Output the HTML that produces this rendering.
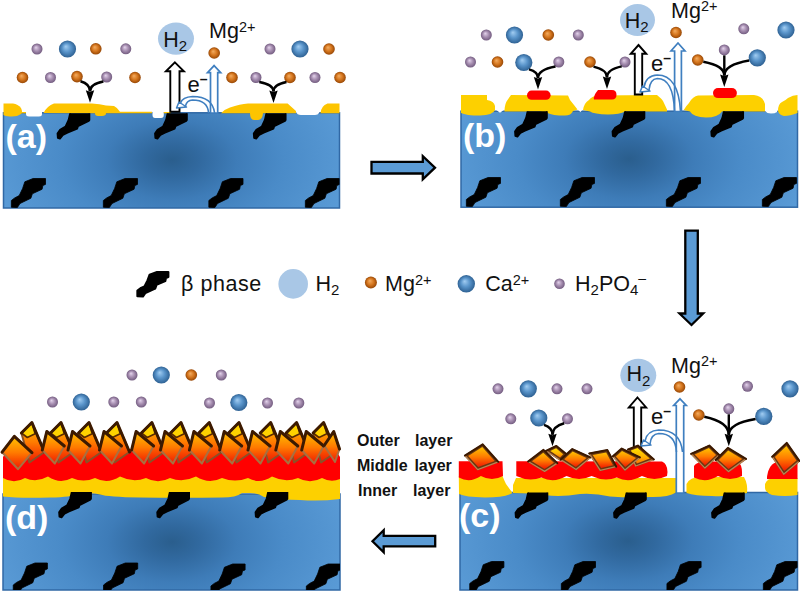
<!DOCTYPE html>
<html><head><meta charset="utf-8"><style>
html,body{margin:0;padding:0;background:#fff;width:800px;height:593px;overflow:hidden;}
svg{display:block;font-family:"Liberation Sans",sans-serif;}
</style></head><body>
<svg width="800" height="593" viewBox="0 0 800 593">

<defs>
<radialGradient id="subA" gradientUnits="userSpaceOnUse" cx="172" cy="160" r="185" gradientTransform="translate(172,160) scale(1,0.62) translate(-172,-160)"><stop offset="0" stop-color="#2a5e8d"/><stop offset="0.15" stop-color="#31699f"/><stop offset="0.35" stop-color="#3e7cb8"/><stop offset="0.6" stop-color="#4a8bc8"/><stop offset="1" stop-color="#5a9bd6"/></radialGradient><radialGradient id="subB" gradientUnits="userSpaceOnUse" cx="629" cy="159" r="185" gradientTransform="translate(629,159) scale(1,0.62) translate(-629,-159)"><stop offset="0" stop-color="#2a5e8d"/><stop offset="0.15" stop-color="#31699f"/><stop offset="0.35" stop-color="#3e7cb8"/><stop offset="0.6" stop-color="#4a8bc8"/><stop offset="1" stop-color="#5a9bd6"/></radialGradient><radialGradient id="subC" gradientUnits="userSpaceOnUse" cx="628" cy="541" r="185" gradientTransform="translate(628,541) scale(1,0.62) translate(-628,-541)"><stop offset="0" stop-color="#2a5e8d"/><stop offset="0.15" stop-color="#31699f"/><stop offset="0.35" stop-color="#3e7cb8"/><stop offset="0.6" stop-color="#4a8bc8"/><stop offset="1" stop-color="#5a9bd6"/></radialGradient><radialGradient id="subD" gradientUnits="userSpaceOnUse" cx="172" cy="542" r="185" gradientTransform="translate(172,542) scale(1,0.62) translate(-172,-542)"><stop offset="0" stop-color="#2a5e8d"/><stop offset="0.15" stop-color="#31699f"/><stop offset="0.35" stop-color="#3e7cb8"/><stop offset="0.6" stop-color="#4a8bc8"/><stop offset="1" stop-color="#5a9bd6"/></radialGradient>
 <radialGradient id="ionO" cx="0.5" cy="0.5" r="0.5" fx="0.4" fy="0.35">
  <stop offset="0" stop-color="#f3ad62"/>
  <stop offset="0.55" stop-color="#d5761e"/>
  <stop offset="1" stop-color="#974705"/>
 </radialGradient>
 <radialGradient id="ionP" cx="0.5" cy="0.5" r="0.5" fx="0.4" fy="0.35">
  <stop offset="0" stop-color="#e4d4ec"/>
  <stop offset="0.5" stop-color="#aa92b4"/>
  <stop offset="1" stop-color="#735c80"/>
 </radialGradient>
 <radialGradient id="ionB" cx="0.5" cy="0.5" r="0.5" fx="0.4" fy="0.35">
  <stop offset="0" stop-color="#a2cdf2"/>
  <stop offset="0.5" stop-color="#5a95cb"/>
  <stop offset="1" stop-color="#2e6193"/>
 </radialGradient>
 <linearGradient id="cry" x1="0" y1="0" x2="0" y2="1">
  <stop offset="0" stop-color="#ffc400"/>
  <stop offset="0.5" stop-color="#ff7a00"/>
  <stop offset="1" stop-color="#f01800"/>
 </linearGradient>
 <linearGradient id="cryY" x1="0" y1="0" x2="0" y2="1">
  <stop offset="0" stop-color="#ffe000"/>
  <stop offset="0.6" stop-color="#ffb000"/>
  <stop offset="1" stop-color="#ff7000"/>
 </linearGradient>
 <path id="beta" d="M0.35,29.25 L0.35,22.5 L3.7,19.9 L8.2,17.6 L11.6,10.5 L13.85,3.75 L22.1,0.5 L34.5,0.5 L34.5,6.4 L31.85,7.5 L31.1,11.25 L21.35,15.75 L19.85,20.25 L9,25.5 L6.35,29.6 Z"/>
 <filter id="blur1" x="-10%" y="-10%" width="120%" height="120%"><feGaussianBlur stdDeviation="0.6"/></filter>
 <clipPath id="clipA"><rect x="3.5" y="112.8" width="336" height="95.2"/></clipPath>
 <clipPath id="clipB"><rect x="461" y="111.2" width="336.5" height="96"/></clipPath>
 <clipPath id="clipC"><rect x="460" y="492.5" width="337.5" height="97.5"/></clipPath>
 <clipPath id="clipD"><rect x="3" y="494" width="337" height="96"/></clipPath>
</defs>

<rect width="800" height="593" fill="#fff"/>
<rect x="3.5" y="112.8" width="336" height="95.2" fill="url(#subA)" stroke="#3068a5" stroke-width="1.5"/><g clip-path="url(#clipA)"><use href="#beta" x="11" y="178" fill="#000" stroke="#000" stroke-width="0.8" stroke-linejoin="round"/><use href="#beta" x="103" y="178" fill="#000" stroke="#000" stroke-width="0.8" stroke-linejoin="round"/><use href="#beta" x="208.5" y="178" fill="#000" stroke="#000" stroke-width="0.8" stroke-linejoin="round"/><use href="#beta" x="305" y="178" fill="#000" stroke="#000" stroke-width="0.8" stroke-linejoin="round"/></g>
<path d="M26,111 L42,111 L42,114 Q42,116.5 39,116.5 L29,116.5 Q26,116.5 26,114 Z" fill="#fff"/>
<path d="M152.5,111 L163.8,111 L163.8,115 Q163.8,118 161,118 L155,118 Q152.5,118 152.5,115 Z" fill="#fff"/>
<path d="M296,111 L320,111 L319,113 Q318,115 315,115 L301,115 Q297,115 296,112 Z" fill="#fff"/>
<path d="M3.5,103.5 L13,103.5 Q18,104 21,108 Q23,112 21,114 Q17,117 10,116.5 Q5,116 3.5,115 Z" fill="#fdc400"/>
<rect x="21" y="112" width="5" height="1.3" fill="#fdc400"/>
<path d="M43.5,113 Q47,106 54,103.5 L92,103.5 Q100,104 106,105.5 L114,106 Q118,108 120,111.8 L152,111.8 L152,113.3 L106,113.3 Q106,116 102,116 L98,116 Q95,116 95,113.3 Z" fill="#fdc400"/>
<rect x="163.8" y="112" width="7" height="1.3" fill="#fdc400"/>
<path d="M221,113.3 Q225,109 230,107.5 Q240,104 248,103.5 L287.6,103.5 L296,111 L296,113.3 L263,113.3 Q262.5,120 258,120 L254,120 Q250,120 250,113.3 Z" fill="#fdc400"/>
<path d="M320.5,113.3 Q321,106 327.5,103.5 L339.5,103.5 L339.5,113.3 Z" fill="#fdc400"/>
<clipPath id="tbA"><rect x="0" y="113.2" width="800" height="60"/></clipPath><g clip-path="url(#tbA)"><path transform="translate(90.00,113.20)" d="M-19.5,-2 L-0.5,-2 L-0.5,6.75 L-1.25,7.85 L-12,13.2 L-12.75,15.5 L-22.5,19.5 L-27,21.75 L-30,25.5 L-32.25,24.75 L-32.6,20.25 L-30,16.5 L-24.5,13.2 L-21.5,6.75 Z" fill="#000" stroke="#000" stroke-width="1.6" stroke-linejoin="round"/><path transform="translate(187.50,113.20)" d="M-19.5,-2 L-0.5,-2 L-0.5,6.75 L-1.25,7.85 L-12,13.2 L-12.75,15.5 L-22.5,19.5 L-27,21.75 L-30,25.5 L-32.25,24.75 L-32.6,20.25 L-30,16.5 L-24.5,13.2 L-21.5,6.75 Z" fill="#000" stroke="#000" stroke-width="1.6" stroke-linejoin="round"/><path transform="translate(286.25,113.20)" d="M-19.5,-2 L-0.5,-2 L-0.5,6.75 L-1.25,7.85 L-12,13.2 L-12.75,15.5 L-22.5,19.5 L-27,21.75 L-30,25.5 L-32.25,24.75 L-32.6,20.25 L-30,16.5 L-24.5,13.2 L-21.5,6.75 Z" fill="#000" stroke="#000" stroke-width="1.6" stroke-linejoin="round"/></g>
<text x="5.5" y="147.6" font-family="Liberation Sans" font-weight="bold" font-size="34" fill="#fff">(a)</text>
<rect x="461" y="111.2" width="336.5" height="96" fill="url(#subB)" stroke="#3068a5" stroke-width="1.5"/><g clip-path="url(#clipB)"><use href="#beta" x="466" y="177" fill="#000" stroke="#000" stroke-width="0.8" stroke-linejoin="round"/><use href="#beta" x="560" y="177" fill="#000" stroke="#000" stroke-width="0.8" stroke-linejoin="round"/><use href="#beta" x="666" y="177" fill="#000" stroke="#000" stroke-width="0.8" stroke-linejoin="round"/><use href="#beta" x="762" y="177" fill="#000" stroke="#000" stroke-width="0.8" stroke-linejoin="round"/></g>
<path d="M495,109 L505,109 L501,112 Q500,113 499,112 Z" fill="#fff"/>
<path d="M577,109 L583,109 L580.5,112 Z" fill="#fff"/>
<path d="M765,109 L778,109 L777,112 Q775,113.5 771,113.5 Q767,113.5 765,111 Z" fill="#fff"/>
<path d="M461,95 L487,95 L487,100 Q494,101 495,106 L495,110 Q493,115 480,115.6 Q466,115.5 461,113 Z" fill="#fdd000"/>
<path d="M504.5,110 Q505,103 507.5,100 L511,95 L568,95.5 L570,100 L574,105 L577.5,109.4 L573,111 Q571,115.6 565,115.6 Q552,115.5 547.5,113 L540,111.5 L504.5,111.5 Z" fill="#fdd000"/>
<path d="M583,110 Q584,103 589,100 Q592,96 597,95.5 L657,95 Q662,99 663,101 L667,109.4 L667,111.5 L625,111.5 Q620,114.5 608,114.5 Q594,114 590,111.5 Z" fill="#fdd000"/>
<path d="M683.7,110 Q686,106 689,103 Q693,96 698,95.5 L754,95 Q763,96 765,104 L765,111.5 L722,111.5 Q718,117.5 706,117.5 Q693,117 690,111.5 Z" fill="#fdd000"/>
<path d="M778,111 Q778,104 782,102 Q786,100 788,98 Q793,95 797.5,95 L797.5,113 Q790,116 784,116 Q779,115 778,111 Z" fill="#fdd000"/>
<rect x="527" y="90.6" width="23.6" height="9.2" rx="4.6" fill="#ff0000"/>
<path d="M598,90 L612,90 Q616.5,90 616.5,94.7 Q616.5,99.4 612,99.4 L594,99.4 Q593,96 598,90 Z" fill="#ff0000"/>
<rect x="713" y="88.1" width="23.9" height="10" rx="5" fill="#ff0000"/>
<clipPath id="tbB"><rect x="0" y="111.2" width="800" height="60"/></clipPath><g clip-path="url(#tbB)"><path transform="translate(547.50,111.20)" d="M-19.5,-2 L-0.5,-2 L-0.5,6.75 L-1.25,7.85 L-12,13.2 L-12.75,15.5 L-22.5,19.5 L-27,21.75 L-30,25.5 L-32.25,24.75 L-32.6,20.25 L-30,16.5 L-24.5,13.2 L-21.5,6.75 Z" fill="#000" stroke="#000" stroke-width="1.6" stroke-linejoin="round"/><path transform="translate(645.00,111.20)" d="M-19.5,-2 L-0.5,-2 L-0.5,6.75 L-1.25,7.85 L-12,13.2 L-12.75,15.5 L-22.5,19.5 L-27,21.75 L-30,25.5 L-32.25,24.75 L-32.6,20.25 L-30,16.5 L-24.5,13.2 L-21.5,6.75 Z" fill="#000" stroke="#000" stroke-width="1.6" stroke-linejoin="round"/><path transform="translate(743.75,111.20)" d="M-19.5,-2 L-0.5,-2 L-0.5,6.75 L-1.25,7.85 L-12,13.2 L-12.75,15.5 L-22.5,19.5 L-27,21.75 L-30,25.5 L-32.25,24.75 L-32.6,20.25 L-30,16.5 L-24.5,13.2 L-21.5,6.75 Z" fill="#000" stroke="#000" stroke-width="1.6" stroke-linejoin="round"/></g>
<text x="463" y="146.6" font-family="Liberation Sans" font-weight="bold" font-size="34" fill="#fff">(b)</text>
<rect x="460" y="492.5" width="337.5" height="97.5" fill="url(#subC)" stroke="#3068a5" stroke-width="1.5"/><g clip-path="url(#clipC)"><use href="#beta" x="469.4" y="561" fill="#000" stroke="#000" stroke-width="0.8" stroke-linejoin="round"/><use href="#beta" x="561" y="561" fill="#000" stroke="#000" stroke-width="0.8" stroke-linejoin="round"/><use href="#beta" x="666.6" y="561" fill="#000" stroke="#000" stroke-width="0.8" stroke-linejoin="round"/><use href="#beta" x="763" y="561" fill="#000" stroke="#000" stroke-width="0.8" stroke-linejoin="round"/></g>
<path d="M458.8,476 L502.5,476 Q504,480 506,484 L512.5,493 Q505,497.5 485,497.5 Q465,497 459,494 Z" fill="#fdd000"/>
<path d="M458.8,461.2 L502.5,461.2 L503,476 Q491.9,482.0 480.9,476.0 Q469.8,483.5 458.8,477.5 Z" fill="#ff0000"/>
<path d="M513,485 L516,478 L676,478 L676,492.5 Q668,497.5 650,497 Q630,498 610,496.5 Q595,493 580,494 Q560,497.5 545,495 Q530,493 513,493 Z" fill="#fdd000"/>
<path d="M516.3,461.2 L662,461.5 Q667.5,464 667.5,472 L667,476 Q654.4,482.0 641.9,476.0 Q629.3,483.5 616.8,477.5 Q604.2,482.0 591.6,476.0 Q579.1,482.0 566.5,476.0 Q554.0,483.5 541.4,477.5 Q528.9,482.0 516.3,476.0 Z" fill="#ff0000"/>
<path d="M686.5,484 Q690,477 700,477 L744,477 Q748,484 747,493 Q730,497 712,496 Q695,496 686.5,493 Z" fill="#fdd000"/>
<path d="M694,466 Q697,461.5 705,461.5 L738,461.5 Q742,465 742,472 L742,476 Q730.0,482.0 718.0,476.0 Q706.0,483.5 694.0,477.5 Z" fill="#ff0000"/>
<path d="M765,484 Q767,478 775,478 L797.5,478 L797.5,495 Q785,497 772,495 Q765,492 765,488 Z" fill="#fdd000"/>
<path d="M767,476.7 Q769,463 778,462 L797.5,462 L797.5,478.9 L767,478.9 Z" fill="#ff0000"/>
<clipPath id="tbC"><rect x="0" y="492.5" width="800" height="60"/></clipPath><g clip-path="url(#tbC)"><path transform="translate(548.00,492.50)" d="M-19.5,-2 L-0.5,-2 L-0.5,6.75 L-1.25,7.85 L-12,13.2 L-12.75,15.5 L-22.5,19.5 L-27,21.75 L-30,25.5 L-32.25,24.75 L-32.6,20.25 L-30,16.5 L-24.5,13.2 L-21.5,6.75 Z" fill="#000" stroke="#000" stroke-width="1.6" stroke-linejoin="round"/><path transform="translate(646.50,492.50)" d="M-19.5,-2 L-0.5,-2 L-0.5,6.75 L-1.25,7.85 L-12,13.2 L-12.75,15.5 L-22.5,19.5 L-27,21.75 L-30,25.5 L-32.25,24.75 L-32.6,20.25 L-30,16.5 L-24.5,13.2 L-21.5,6.75 Z" fill="#000" stroke="#000" stroke-width="1.6" stroke-linejoin="round"/><path transform="translate(744.50,492.50)" d="M-19.5,-2 L-0.5,-2 L-0.5,6.75 L-1.25,7.85 L-12,13.2 L-12.75,15.5 L-22.5,19.5 L-27,21.75 L-30,25.5 L-32.25,24.75 L-32.6,20.25 L-30,16.5 L-24.5,13.2 L-21.5,6.75 Z" fill="#000" stroke="#000" stroke-width="1.6" stroke-linejoin="round"/></g>
<text x="459" y="527" font-family="Liberation Sans" font-weight="bold" font-size="34" fill="#fff">(c)</text>
<rect x="3" y="494" width="337" height="96" fill="url(#subD)" stroke="#3068a5" stroke-width="1.5"/><g clip-path="url(#clipD)"><use href="#beta" x="12.9" y="562.5" fill="#000" stroke="#000" stroke-width="0.8" stroke-linejoin="round"/><use href="#beta" x="103.2" y="562.5" fill="#000" stroke="#000" stroke-width="0.8" stroke-linejoin="round"/><use href="#beta" x="210.6" y="563.5" fill="#000" stroke="#000" stroke-width="0.8" stroke-linejoin="round"/><use href="#beta" x="306" y="563.5" fill="#000" stroke="#000" stroke-width="0.8" stroke-linejoin="round"/></g>
<path d="M3,476 L340,476 L340,499 Q320,501.5 300,500 Q280,500 264,497 Q258,493 250,493 L242,493 Q236,497.5 222,497.5 Q180,498 140,497.5 Q108,497 100,494.5 Q95,492.8 88,493 L78,493 Q72,497.5 50,497.5 Q20,498.5 3,496.5 Z" fill="#fdd000"/>
<path d="M3,457 L8,449 L335,449 L340,457 L340,479 Q331.0,483.0 322,478 Q310.0,484.6 298,478 Q285.0,483.0 272,476.5 Q260.0,484.6 248,478 Q235.0,483.0 222,478 Q209.0,484.6 196,476.5 Q183.0,483.0 170,478 Q158.0,484.6 146,478 Q133.0,483.0 120,476.5 Q107.5,484.6 95,478 Q83.5,483.0 72,478 Q60.0,484.6 48,476.5 Q36.5,483.0 25,478 Q14.0,484.6 3,478 Z" fill="#ff0000"/>
<clipPath id="tbD"><rect x="0" y="492" width="800" height="60"/></clipPath><g clip-path="url(#tbD)"><path transform="translate(91.60,492.00)" d="M-19.5,-2 L-0.5,-2 L-0.5,6.75 L-1.25,7.85 L-12,13.2 L-12.75,15.5 L-22.5,19.5 L-27,21.75 L-30,25.5 L-32.25,24.75 L-32.6,20.25 L-30,16.5 L-24.5,13.2 L-21.5,6.75 Z" fill="#000" stroke="#000" stroke-width="1.6" stroke-linejoin="round"/><path transform="translate(189.70,492.00)" d="M-19.5,-2 L-0.5,-2 L-0.5,6.75 L-1.25,7.85 L-12,13.2 L-12.75,15.5 L-22.5,19.5 L-27,21.75 L-30,25.5 L-32.25,24.75 L-32.6,20.25 L-30,16.5 L-24.5,13.2 L-21.5,6.75 Z" fill="#000" stroke="#000" stroke-width="1.6" stroke-linejoin="round"/><path transform="translate(288.00,492.00)" d="M-19.5,-2 L-0.5,-2 L-0.5,6.75 L-1.25,7.85 L-12,13.2 L-12.75,15.5 L-22.5,19.5 L-27,21.75 L-30,25.5 L-32.25,24.75 L-32.6,20.25 L-30,16.5 L-24.5,13.2 L-21.5,6.75 Z" fill="#000" stroke="#000" stroke-width="1.6" stroke-linejoin="round"/></g>
<text x="5" y="529" font-family="Liberation Sans" font-weight="bold" font-size="34" fill="#fff">(d)</text>
<circle cx="37" cy="49" r="5.5" fill="url(#ionP)"/>
<circle cx="67.5" cy="49" r="8.6" fill="url(#ionB)"/>
<circle cx="95.8" cy="48.8" r="5.8" fill="url(#ionO)"/>
<circle cx="125.8" cy="48.8" r="5.5" fill="url(#ionP)"/>
<circle cx="22.5" cy="77.5" r="5.8" fill="url(#ionO)"/>
<circle cx="50.5" cy="77.5" r="5.5" fill="url(#ionP)"/>
<circle cx="77" cy="76.6" r="5.8" fill="url(#ionO)"/>
<circle cx="106.7" cy="77" r="5.5" fill="url(#ionP)"/>
<circle cx="135" cy="77.5" r="5.8" fill="url(#ionO)"/>
<circle cx="270" cy="49" r="5.5" fill="url(#ionP)"/>
<circle cx="300" cy="49" r="8.6" fill="url(#ionB)"/>
<circle cx="329" cy="49" r="5.8" fill="url(#ionO)"/>
<circle cx="232" cy="77.5" r="5.8" fill="url(#ionO)"/>
<circle cx="256" cy="77.5" r="5.5" fill="url(#ionP)"/>
<circle cx="290" cy="77.5" r="5.8" fill="url(#ionO)"/>
<circle cx="315" cy="77.5" r="5.5" fill="url(#ionP)"/>
<circle cx="340" cy="77.5" r="5.8" fill="url(#ionO)"/>
<circle cx="214.2" cy="53" r="5.8" fill="url(#ionO)"/>
<path d="M80.5,81.2 Q90.0,83.9 90,91.2" fill="none" stroke="#000" stroke-width="2.5"/><path d="M103.4,81.4 Q90.0,84.0 90,91.2" fill="none" stroke="#000" stroke-width="2.5"/><path d="M85.8,90.2 L90,91.7 L94.2,90.2 L90,102.7 Z" fill="#000"/>
<path d="M259.3,81.9 Q273.5,84.5 273.5,91.5" fill="none" stroke="#000" stroke-width="2.5"/><path d="M286.5,82.1 Q273.5,84.6 273.5,91.5" fill="none" stroke="#000" stroke-width="2.5"/><path d="M269.3,90.5 L273.5,92.0 L277.7,90.5 L273.5,103 Z" fill="#000"/>
<circle cx="486.3" cy="35" r="5.5" fill="url(#ionP)"/>
<circle cx="514.5" cy="35" r="8.6" fill="url(#ionB)"/>
<circle cx="548.3" cy="35" r="5.8" fill="url(#ionO)"/>
<circle cx="578.3" cy="35" r="5.5" fill="url(#ionP)"/>
<circle cx="470.5" cy="62" r="5.5" fill="url(#ionP)"/>
<circle cx="497.5" cy="62" r="5.8" fill="url(#ionO)"/>
<circle cx="523.8" cy="62.5" r="8.6" fill="url(#ionB)"/>
<circle cx="558.8" cy="62" r="5.5" fill="url(#ionP)"/>
<circle cx="590" cy="62" r="5.8" fill="url(#ionO)"/>
<circle cx="625" cy="62" r="5.5" fill="url(#ionP)"/>
<circle cx="676" cy="32.5" r="5.8" fill="url(#ionO)"/>
<circle cx="743.8" cy="28.8" r="5.5" fill="url(#ionP)"/>
<circle cx="786" cy="30" r="8.6" fill="url(#ionB)"/>
<circle cx="697.75" cy="60" r="5.8" fill="url(#ionO)"/>
<circle cx="724.3" cy="49.9" r="5.5" fill="url(#ionP)"/>
<circle cx="757.3" cy="57.8" r="8.6" fill="url(#ionB)"/>
<path d="M529.0,69.4 Q538.0,71.7 538,78.0" fill="none" stroke="#000" stroke-width="2.5"/><path d="M555.5,66.4 Q538.0,69.6 538,78.0" fill="none" stroke="#000" stroke-width="2.5"/><path d="M533.8,77.0 L538,78.5 L542.2,77.0 L538,89.5 Z" fill="#000"/>
<path d="M593.5,66.6 Q607.0,69.6 607,77.5" fill="none" stroke="#000" stroke-width="2.5"/><path d="M621.7,66.4 Q607.0,69.4 607,77.5" fill="none" stroke="#000" stroke-width="2.5"/><path d="M602.8,76.5 L607,78.0 L611.2,76.5 L607,89 Z" fill="#000"/>
<path d="M703.3,61.7 Q724.3,65.6 724.3,75.5" fill="none" stroke="#000" stroke-width="2.5"/><path d="M749.1,60.4 Q724.3,64.6 724.3,75.5" fill="none" stroke="#000" stroke-width="2.5"/><line x1="724.3" y1="55.4" x2="724.3" y2="75.5" stroke="#000" stroke-width="2.4"/><path d="M720.0999999999999,74.5 L724.3,76.0 L728.5,74.5 L724.3,87 Z" fill="#000"/>
<circle cx="498" cy="388.8" r="5.5" fill="url(#ionP)"/>
<circle cx="528.3" cy="388.8" r="8.6" fill="url(#ionB)"/>
<circle cx="557" cy="388.8" r="5.5" fill="url(#ionP)"/>
<circle cx="587" cy="388.8" r="5.5" fill="url(#ionP)"/>
<circle cx="510.8" cy="418.8" r="5.5" fill="url(#ionP)"/>
<circle cx="538.8" cy="418" r="8.6" fill="url(#ionB)"/>
<circle cx="567.5" cy="418.8" r="5.5" fill="url(#ionP)"/>
<circle cx="679.5" cy="387" r="5.8" fill="url(#ionO)"/>
<circle cx="747.5" cy="386.3" r="5.5" fill="url(#ionP)"/>
<circle cx="790" cy="388.8" r="8.6" fill="url(#ionB)"/>
<circle cx="698.8" cy="415" r="5.8" fill="url(#ionO)"/>
<circle cx="728.8" cy="408.8" r="5.5" fill="url(#ionP)"/>
<circle cx="763.8" cy="416.3" r="8.6" fill="url(#ionB)"/>
<path d="M544.0,424.9 Q552.5,427.6 552.5,434.8" fill="none" stroke="#000" stroke-width="2.5"/><path d="M564.2,423.2 Q552.5,426.4 552.5,434.8" fill="none" stroke="#000" stroke-width="2.5"/><path d="M548.3,433.8 L552.5,435.3 L556.7,433.8 L552.5,446.3 Z" fill="#000"/>
<path d="M704.3,416.7 Q728.8,421.9 728.8,434.8" fill="none" stroke="#000" stroke-width="2.5"/><path d="M755.6,418.9 Q728.8,423.4 728.8,434.8" fill="none" stroke="#000" stroke-width="2.5"/><line x1="728.8" y1="414.3" x2="728.8" y2="434.8" stroke="#000" stroke-width="2.4"/><path d="M724.5999999999999,433.8 L728.8,435.3 L733.0,433.8 L728.8,446.3 Z" fill="#000"/>
<circle cx="132" cy="375" r="5.5" fill="url(#ionP)"/>
<circle cx="161.3" cy="375" r="8.6" fill="url(#ionB)"/>
<circle cx="191.3" cy="375" r="5.8" fill="url(#ionO)"/>
<circle cx="221.3" cy="375" r="5.5" fill="url(#ionP)"/>
<circle cx="52.5" cy="402" r="5.5" fill="url(#ionP)"/>
<circle cx="81.3" cy="402" r="8.6" fill="url(#ionB)"/>
<circle cx="113.8" cy="402" r="5.5" fill="url(#ionP)"/>
<circle cx="141.3" cy="402" r="5.5" fill="url(#ionP)"/>
<circle cx="209.5" cy="403" r="5.5" fill="url(#ionP)"/>
<circle cx="238.8" cy="402.5" r="8.6" fill="url(#ionB)"/>
<circle cx="267.5" cy="403" r="5.5" fill="url(#ionP)"/>
<circle cx="298.8" cy="403" r="5.5" fill="url(#ionP)"/>
<ellipse cx="176" cy="38.6" rx="18" ry="16.2" fill="#a9c7e6"/><text x="163.2" y="46.6" font-family="Liberation Sans" font-size="21.5" fill="#111">H<tspan font-size="15" dy="4.4">2</tspan></text>
<text x="209" y="38" font-family="Liberation Sans" font-size="21.5" fill="#111">Mg<tspan font-size="14.5" dy="-6.5">2+</tspan></text>
<path d="M174.9,62.4 L183.9,71.2 L179.5,71.2 L179.5,111.7 L170.3,111.7 L170.3,71.2 L165.9,71.2 Z" fill="#fff" stroke="#000" stroke-width="1.9" stroke-linejoin="miter"/>
<path d="M214.1,65.6 L220.7,72.7 L217.7,72.7 L217.7,113 L210.5,113 L210.5,72.7 L207.5,72.7 Z" fill="#fff" stroke="#3f7fc0" stroke-width="1.7" stroke-linejoin="miter"/>
<path d="M214.6,113 Q212.6,96.5 192.55,96.5 Q182.5,97.0 180.5,103" fill="none" stroke="#3f7fc0" stroke-width="1.6"/><path d="M208.6,113 Q207.6,100.0 192.55,100.0 Q186.5,100.5 185.5,106" fill="none" stroke="#3f7fc0" stroke-width="1.6"/><path d="M176.5,108 L179.0,102 L186.5,107 Z" fill="#fff" stroke="#3f7fc0" stroke-width="1.5" stroke-linejoin="round"/>
<text x="187.5" y="91.6" font-family="Liberation Sans" font-size="22" fill="#111">e<tspan font-size="14" font-weight="bold" dy="-8">&#8211;</tspan></text>
<ellipse cx="637.5" cy="20" rx="17.5" ry="16" fill="#a9c7e6"/><text x="624.7" y="28" font-family="Liberation Sans" font-size="21.5" fill="#111">H<tspan font-size="15" dy="4.4">2</tspan></text>
<text x="671" y="17.6" font-family="Liberation Sans" font-size="21.5" fill="#111">Mg<tspan font-size="14.5" dy="-6.5">2+</tspan></text>
<path d="M638.5,45 L646.3,53.8 L642.2,53.8 L642.2,94.5 L634.8,94.5 L634.8,53.8 L630.7,53.8 Z" fill="#fff" stroke="#000" stroke-width="1.9" stroke-linejoin="miter"/>
<path d="M678,43 L685,51 L681.4,51 L681.4,111.5 L674.6,111.5 L674.6,51 L671,51 Z" fill="#fff" stroke="#3f7fc0" stroke-width="1.7" stroke-linejoin="miter"/>
<path d="M680.5,111.5 Q678.5,75 657.25,75 Q646,75.5 644,87" fill="none" stroke="#3f7fc0" stroke-width="1.6"/><path d="M674.5,111.5 Q673.5,78.5 657.25,78.5 Q650,79 649,90" fill="none" stroke="#3f7fc0" stroke-width="1.6"/><path d="M640,92 L642.5,86 L650,91 Z" fill="#fff" stroke="#3f7fc0" stroke-width="1.5" stroke-linejoin="round"/>
<text x="651" y="70.5" font-family="Liberation Sans" font-size="22" fill="#111">e<tspan font-size="14" font-weight="bold" dy="-8">&#8211;</tspan></text>
<ellipse cx="638.3" cy="375.3" rx="18" ry="16.6" fill="#a9c7e6"/><text x="626.5" y="381.3" font-family="Liberation Sans" font-size="21.5" fill="#111">H<tspan font-size="15" dy="4.4">2</tspan></text>
<text x="671" y="372.6" font-family="Liberation Sans" font-size="21.5" fill="#111">Mg<tspan font-size="14.5" dy="-6.5">2+</tspan></text>
<path d="M637.5,397.5 L646.2,407.5 L641.2,407.5 L641.2,452 L633.8,452 L633.8,407.5 L628.8,407.5 Z" fill="#fff" stroke="#000" stroke-width="1.9" stroke-linejoin="miter"/>
<path d="M680,398.8 L686.3,405.5 L683.7,405.5 L683.7,493 L676.3,493 L676.3,405.5 L673.7,405.5 Z" fill="#fff" stroke="#3f7fc0" stroke-width="1.7" stroke-linejoin="miter"/>
<path d="M682.5,452 Q680.5,430 658.75,430 Q647,430.5 645,441" fill="none" stroke="#3f7fc0" stroke-width="1.6"/><path d="M676.5,452 Q675.5,433.5 658.75,433.5 Q651,434 650,444" fill="none" stroke="#3f7fc0" stroke-width="1.6"/><path d="M641,446 L643.5,440 L651,445 Z" fill="#fff" stroke="#3f7fc0" stroke-width="1.5" stroke-linejoin="round"/>
<text x="651" y="424.3" font-family="Liberation Sans" font-size="22" fill="#111">e<tspan font-size="14" font-weight="bold" dy="-8">&#8211;</tspan></text>
<polygon points="464.9,455.5 482.7,444.4 498.3,461.8 477.7,469.6" fill="#6a3810" stroke="#6a3810" stroke-width="1.2" stroke-linejoin="round"/><polyline points="464.9,455.5 477.7,469.6 498.3,461.8" fill="none" stroke="#b98555" stroke-width="1.3" stroke-linejoin="round"/><polyline points="464.9,455.5 482.7,444.4 498.3,461.8" fill="none" stroke="#3a1800" stroke-width="2" stroke-linejoin="round" stroke-linecap="round"/><polygon points="468.2,456.0 482.3,447.1 494.7,460.9 478.3,467.1" fill="url(#cry)"/>
<polygon points="546.0,450.8 556.4,445.9 566.3,454.1 560.3,460.2" fill="#6a3810" stroke="#6a3810" stroke-width="1.2" stroke-linejoin="round"/><polyline points="546.0,450.8 560.3,460.2 566.3,454.1" fill="none" stroke="#b98555" stroke-width="1.3" stroke-linejoin="round"/><polyline points="546.0,450.8 556.4,445.9 566.3,454.1" fill="none" stroke="#3a1800" stroke-width="2" stroke-linejoin="round" stroke-linecap="round"/><polygon points="550.3,451.1 556.1,448.3 563.2,454.3 560.0,457.5" fill="url(#cryY)"/>
<polygon points="528.1,461.5 543.5,449.9 557.3,463.1 544.6,471.4" fill="#6a3810" stroke="#6a3810" stroke-width="1.2" stroke-linejoin="round"/><polyline points="528.1,461.5 544.6,471.4 557.3,463.1" fill="none" stroke="#b98555" stroke-width="1.3" stroke-linejoin="round"/><polyline points="528.1,461.5 543.5,449.9 557.3,463.1" fill="none" stroke="#3a1800" stroke-width="2" stroke-linejoin="round" stroke-linecap="round"/><polygon points="531.9,461.3 543.3,452.7 553.9,462.8 544.6,468.9" fill="url(#cry)"/>
<polygon points="560.7,459.6 572.3,449.1 590.4,457.4 576.1,469.5" fill="#6a3810" stroke="#6a3810" stroke-width="1.2" stroke-linejoin="round"/><polyline points="560.7,459.6 576.1,469.5 590.4,457.4" fill="none" stroke="#b98555" stroke-width="1.3" stroke-linejoin="round"/><polyline points="560.7,459.6 572.3,449.1 590.4,457.4" fill="none" stroke="#3a1800" stroke-width="2" stroke-linejoin="round" stroke-linecap="round"/><polygon points="564.2,459.3 572.6,451.6 586.5,457.9 575.9,466.9" fill="url(#cry)"/>
<polygon points="628.0,449.5 637.9,445.6 653.9,459.4 635.7,466.0" fill="#6a3810" stroke="#6a3810" stroke-width="1.2" stroke-linejoin="round"/><polyline points="628.0,449.5 635.7,466.0 653.9,459.4" fill="none" stroke="#b98555" stroke-width="1.3" stroke-linejoin="round"/><polyline points="628.0,449.5 637.9,445.6 653.9,459.4" fill="none" stroke="#3a1800" stroke-width="2" stroke-linejoin="round" stroke-linecap="round"/><polygon points="630.9,450.6 637.5,448.1 649.8,458.6 636.8,463.4" fill="url(#cryY)"/>
<polygon points="589.2,453.4 607.4,450.1 616.2,466.6 600.2,470.4" fill="#6a3810" stroke="#6a3810" stroke-width="1.2" stroke-linejoin="round"/><polyline points="589.2,453.4 600.2,470.4 616.2,466.6" fill="none" stroke="#b98555" stroke-width="1.3" stroke-linejoin="round"/><polyline points="589.2,453.4 607.4,450.1 616.2,466.6" fill="none" stroke="#3a1800" stroke-width="2" stroke-linejoin="round" stroke-linecap="round"/><polygon points="592.7,454.9 606.2,452.4 613.0,465.2 601.2,468.0" fill="url(#cry)"/>
<polygon points="612.9,456.3 621.7,448.6 639.9,457.4 625.0,470.1" fill="#6a3810" stroke="#6a3810" stroke-width="1.2" stroke-linejoin="round"/><polyline points="612.9,456.3 625.0,470.1 639.9,457.4" fill="none" stroke="#b98555" stroke-width="1.3" stroke-linejoin="round"/><polyline points="612.9,456.3 621.7,448.6 639.9,457.4" fill="none" stroke="#3a1800" stroke-width="2" stroke-linejoin="round" stroke-linecap="round"/><polygon points="615.9,456.5 622.0,451.1 636.1,457.9 625.2,467.1" fill="url(#cry)"/>
<polygon points="691.1,453.8 709.3,445.6 719.2,454.9 704.9,468.1" fill="#6a3810" stroke="#6a3810" stroke-width="1.2" stroke-linejoin="round"/><polyline points="691.1,453.8 704.9,468.1 719.2,454.9" fill="none" stroke="#b98555" stroke-width="1.3" stroke-linejoin="round"/><polyline points="691.1,453.8 709.3,445.6 719.2,454.9" fill="none" stroke="#3a1800" stroke-width="2" stroke-linejoin="round" stroke-linecap="round"/><polygon points="694.7,454.5 708.9,448.1 716.1,454.9 705.0,465.2" fill="url(#cry)"/>
<polygon points="715.8,460.0 727.9,447.9 746.0,458.9 728.4,471.6" fill="#6a3810" stroke="#6a3810" stroke-width="1.2" stroke-linejoin="round"/><polyline points="715.8,460.0 728.4,471.6 746.0,458.9" fill="none" stroke="#b98555" stroke-width="1.3" stroke-linejoin="round"/><polyline points="715.8,460.0 727.9,447.9 746.0,458.9" fill="none" stroke="#3a1800" stroke-width="2" stroke-linejoin="round" stroke-linecap="round"/><polygon points="718.8,460.0 728.2,450.6 742.2,459.1 728.6,468.9" fill="url(#cry)"/>
<polygon points="772.2,456.7 786.7,442.9 799.4,461.0 783.7,474.2" fill="#6a3810" stroke="#6a3810" stroke-width="1.2" stroke-linejoin="round"/><polyline points="772.2,456.7 783.7,474.2 799.4,461.0" fill="none" stroke="#b98555" stroke-width="1.3" stroke-linejoin="round"/><polyline points="772.2,456.7 786.7,442.9 799.4,461.0" fill="none" stroke="#3a1800" stroke-width="2" stroke-linejoin="round" stroke-linecap="round"/><polygon points="774.9,457.0 786.4,446.1 796.5,460.6 784.2,471.1" fill="url(#cry)"/>
<polygon points="31.9,422.5 44.4,452 29.4,462.5 21.4,433" fill="url(#cry)" stroke="#8a5228" stroke-width="2" stroke-linejoin="round"/>
<polygon points="31.9,422.5 21.4,433 27.299999999999997,437.5 35.1,433.8" fill="#ffd200" stroke="#5a2c00" stroke-width="1.6" stroke-linejoin="round"/>
<polyline points="21.4,433 31.9,422.5 44.4,452" fill="none" stroke="#3c1a00" stroke-width="3" stroke-linejoin="round" stroke-linecap="round"/>
<polygon points="61,422.5 73.5,452 58.5,462.5 50.5,433" fill="url(#cry)" stroke="#8a5228" stroke-width="2" stroke-linejoin="round"/>
<polygon points="61,422.5 50.5,433 56.4,437.5 64.2,433.8" fill="#ffd200" stroke="#5a2c00" stroke-width="1.6" stroke-linejoin="round"/>
<polyline points="50.5,433 61,422.5 73.5,452" fill="none" stroke="#3c1a00" stroke-width="3" stroke-linejoin="round" stroke-linecap="round"/>
<polygon points="89,422.5 101.5,452 86.5,462.5 78.5,433" fill="url(#cry)" stroke="#8a5228" stroke-width="2" stroke-linejoin="round"/>
<polygon points="89,422.5 78.5,433 84.4,437.5 92.2,433.8" fill="#ffd200" stroke="#5a2c00" stroke-width="1.6" stroke-linejoin="round"/>
<polyline points="78.5,433 89,422.5 101.5,452" fill="none" stroke="#3c1a00" stroke-width="3" stroke-linejoin="round" stroke-linecap="round"/>
<polygon points="117,422.5 129.5,452 114.5,462.5 106.5,433" fill="url(#cry)" stroke="#8a5228" stroke-width="2" stroke-linejoin="round"/>
<polygon points="117,422.5 106.5,433 112.4,437.5 120.2,433.8" fill="#ffd200" stroke="#5a2c00" stroke-width="1.6" stroke-linejoin="round"/>
<polyline points="106.5,433 117,422.5 129.5,452" fill="none" stroke="#3c1a00" stroke-width="3" stroke-linejoin="round" stroke-linecap="round"/>
<polygon points="151.9,422.5 164.4,452 149.4,462.5 141.4,433" fill="url(#cry)" stroke="#8a5228" stroke-width="2" stroke-linejoin="round"/>
<polygon points="151.9,422.5 141.4,433 147.3,437.5 155.1,433.8" fill="#ffd200" stroke="#5a2c00" stroke-width="1.6" stroke-linejoin="round"/>
<polyline points="141.4,433 151.9,422.5 164.4,452" fill="none" stroke="#3c1a00" stroke-width="3" stroke-linejoin="round" stroke-linecap="round"/>
<polygon points="181,422.5 193.5,452 178.5,462.5 170.5,433" fill="url(#cry)" stroke="#8a5228" stroke-width="2" stroke-linejoin="round"/>
<polygon points="181,422.5 170.5,433 176.4,437.5 184.2,433.8" fill="#ffd200" stroke="#5a2c00" stroke-width="1.6" stroke-linejoin="round"/>
<polyline points="170.5,433 181,422.5 193.5,452" fill="none" stroke="#3c1a00" stroke-width="3" stroke-linejoin="round" stroke-linecap="round"/>
<polygon points="209.3,422.5 221.8,452 206.8,462.5 198.8,433" fill="url(#cry)" stroke="#8a5228" stroke-width="2" stroke-linejoin="round"/>
<polygon points="209.3,422.5 198.8,433 204.70000000000002,437.5 212.5,433.8" fill="#ffd200" stroke="#5a2c00" stroke-width="1.6" stroke-linejoin="round"/>
<polyline points="198.8,433 209.3,422.5 221.8,452" fill="none" stroke="#3c1a00" stroke-width="3" stroke-linejoin="round" stroke-linecap="round"/>
<polygon points="239,422.5 251.5,452 236.5,462.5 228.5,433" fill="url(#cry)" stroke="#8a5228" stroke-width="2" stroke-linejoin="round"/>
<polygon points="239,422.5 228.5,433 234.4,437.5 242.2,433.8" fill="#ffd200" stroke="#5a2c00" stroke-width="1.6" stroke-linejoin="round"/>
<polyline points="228.5,433 239,422.5 251.5,452" fill="none" stroke="#3c1a00" stroke-width="3" stroke-linejoin="round" stroke-linecap="round"/>
<polygon points="270.7,422.5 283.2,452 268.2,462.5 260.2,433" fill="url(#cry)" stroke="#8a5228" stroke-width="2" stroke-linejoin="round"/>
<polygon points="270.7,422.5 260.2,433 266.09999999999997,437.5 273.9,433.8" fill="#ffd200" stroke="#5a2c00" stroke-width="1.6" stroke-linejoin="round"/>
<polyline points="260.2,433 270.7,422.5 283.2,452" fill="none" stroke="#3c1a00" stroke-width="3" stroke-linejoin="round" stroke-linecap="round"/>
<polygon points="296.6,422.5 309.1,452 294.1,462.5 286.1,433" fill="url(#cry)" stroke="#8a5228" stroke-width="2" stroke-linejoin="round"/>
<polygon points="296.6,422.5 286.1,433 292.0,437.5 299.8,433.8" fill="#ffd200" stroke="#5a2c00" stroke-width="1.6" stroke-linejoin="round"/>
<polyline points="286.1,433 296.6,422.5 309.1,452" fill="none" stroke="#3c1a00" stroke-width="3" stroke-linejoin="round" stroke-linecap="round"/>
<polygon points="323.6,422.5 336.1,452 321.1,462.5 313.1,433" fill="url(#cry)" stroke="#8a5228" stroke-width="2" stroke-linejoin="round"/>
<polygon points="323.6,422.5 313.1,433 319.0,437.5 326.8,433.8" fill="#ffd200" stroke="#5a2c00" stroke-width="1.6" stroke-linejoin="round"/>
<polyline points="313.1,433 323.6,422.5 336.1,452" fill="none" stroke="#3c1a00" stroke-width="3" stroke-linejoin="round" stroke-linecap="round"/>
<polygon points="14.3,436.3 31.9,452.7 18.1,469.2 2.1,452.2" fill="url(#cry)" stroke="#a87040" stroke-width="2" stroke-linejoin="round"/>
<polyline points="2.1,452.2 14.3,436.3 31.9,452.7" fill="none" stroke="#3c1a00" stroke-width="3" stroke-linejoin="round" stroke-linecap="round"/>
<polygon points="46.8,431.5 64.3,446.0 54.8,463.5 42.3,450.0" fill="url(#cry)" stroke="#a87040" stroke-width="2" stroke-linejoin="round"/>
<polyline points="42.3,450.0 46.8,431.5 64.3,446.0" fill="none" stroke="#3c1a00" stroke-width="3" stroke-linejoin="round" stroke-linecap="round"/>
<polygon points="72.5,431.5 90.0,446.0 80.5,463.5 68.0,450.0" fill="url(#cry)" stroke="#a87040" stroke-width="2" stroke-linejoin="round"/>
<polyline points="68.0,450.0 72.5,431.5 90.0,446.0" fill="none" stroke="#3c1a00" stroke-width="3" stroke-linejoin="round" stroke-linecap="round"/>
<polygon points="104,431.5 121.5,446.0 112,463.5 99.5,450.0" fill="url(#cry)" stroke="#a87040" stroke-width="2" stroke-linejoin="round"/>
<polyline points="99.5,450.0 104,431.5 121.5,446.0" fill="none" stroke="#3c1a00" stroke-width="3" stroke-linejoin="round" stroke-linecap="round"/>
<polygon points="136.1,431.5 153.6,446.0 144.1,463.5 131.6,450.0" fill="url(#cry)" stroke="#a87040" stroke-width="2" stroke-linejoin="round"/>
<polyline points="131.6,450.0 136.1,431.5 153.6,446.0" fill="none" stroke="#3c1a00" stroke-width="3" stroke-linejoin="round" stroke-linecap="round"/>
<polygon points="165,431.5 182.5,446.0 173,463.5 160.5,450.0" fill="url(#cry)" stroke="#a87040" stroke-width="2" stroke-linejoin="round"/>
<polyline points="160.5,450.0 165,431.5 182.5,446.0" fill="none" stroke="#3c1a00" stroke-width="3" stroke-linejoin="round" stroke-linecap="round"/>
<polygon points="193.9,431.5 211.4,446.0 201.9,463.5 189.4,450.0" fill="url(#cry)" stroke="#a87040" stroke-width="2" stroke-linejoin="round"/>
<polyline points="189.4,450.0 193.9,431.5 211.4,446.0" fill="none" stroke="#3c1a00" stroke-width="3" stroke-linejoin="round" stroke-linecap="round"/>
<polygon points="224.2,431.5 241.7,446.0 232.2,463.5 219.7,450.0" fill="url(#cry)" stroke="#a87040" stroke-width="2" stroke-linejoin="round"/>
<polyline points="219.7,450.0 224.2,431.5 241.7,446.0" fill="none" stroke="#3c1a00" stroke-width="3" stroke-linejoin="round" stroke-linecap="round"/>
<polygon points="252.5,431.5 270.0,446.0 260.5,463.5 248.0,450.0" fill="url(#cry)" stroke="#a87040" stroke-width="2" stroke-linejoin="round"/>
<polyline points="248.0,450.0 252.5,431.5 270.0,446.0" fill="none" stroke="#3c1a00" stroke-width="3" stroke-linejoin="round" stroke-linecap="round"/>
<polygon points="280.3,431.5 297.8,446.0 288.3,463.5 275.8,450.0" fill="url(#cry)" stroke="#a87040" stroke-width="2" stroke-linejoin="round"/>
<polyline points="275.8,450.0 280.3,431.5 297.8,446.0" fill="none" stroke="#3c1a00" stroke-width="3" stroke-linejoin="round" stroke-linecap="round"/>
<polygon points="306.2,431.5 323.7,446.0 314.2,463.5 301.7,450.0" fill="url(#cry)" stroke="#a87040" stroke-width="2" stroke-linejoin="round"/>
<polyline points="301.7,450.0 306.2,431.5 323.7,446.0" fill="none" stroke="#3c1a00" stroke-width="3" stroke-linejoin="round" stroke-linecap="round"/>
<polygon points="333.7,431.5 339.5,449 335,462 324.2,445.5" fill="url(#cry)" stroke="#a87040" stroke-width="2" stroke-linejoin="round"/>
<polyline points="324.2,445.5 333.7,431.5 339.5,449" fill="none" stroke="#3c1a00" stroke-width="3" stroke-linejoin="round" stroke-linecap="round"/>
<path d="M371.5,161.8 L422.8,161.8 L422.8,156.2 L435,167.7 L422.8,179.3 L422.8,173.5 L371.5,173.5 Z" fill="#5b9bd5" stroke="#000" stroke-width="2.3" stroke-linejoin="miter"/>
<path d="M685.3,230.6 L697.8,230.6 L697.8,313.5 L703.2,313.5 L691.5,325 L679.5,313.5 L685.3,313.5 Z" fill="#5b9bd5" stroke="#000" stroke-width="2.3" stroke-linejoin="miter"/>
<path d="M435.2,535.8 L383.7,535.8 L383.7,530.3 L372.5,541.2 L383.7,552.3 L383.7,546.3 L435.2,546.3 Z" fill="#5b9bd5" stroke="#000" stroke-width="2.3" stroke-linejoin="miter"/>
<g filter="url(#blur1)"><g transform="translate(137.2,271.6) scale(0.9,0.84)"><use href="#beta" fill="#000" stroke="#000" stroke-width="2.6" stroke-linejoin="round"/></g></g>
<text x="181" y="291" font-family="Liberation Sans" font-size="21.5" letter-spacing="0.55" fill="#111">&#946; phase</text>
<circle cx="293.2" cy="283.9" r="14.8" fill="#a9c7e6"/>
<text x="315.5" y="291" font-family="Liberation Sans" font-size="21.5" fill="#111">H<tspan font-size="15" dy="4.4">2</tspan></text>
<circle cx="370.9" cy="282.5" r="6" fill="url(#ionO)"/>
<text x="385" y="291" font-family="Liberation Sans" font-size="21.5" fill="#111">Mg<tspan font-size="14.5" dy="-6.5">2+</tspan></text>
<circle cx="466.3" cy="283.8" r="8.7" fill="url(#ionB)"/>
<text x="485.3" y="291" font-family="Liberation Sans" font-size="21.5" fill="#111">Ca<tspan font-size="14.5" dy="-6.5">2+</tspan></text>
<circle cx="559.5" cy="283.8" r="5.3" fill="url(#ionP)"/>
<text x="575" y="291" font-family="Liberation Sans" font-size="21.5" fill="#111">H<tspan font-size="15" dy="4.4">2</tspan><tspan dy="-4.4">PO</tspan><tspan font-size="15" dy="4.4">4</tspan><tspan font-size="14" dy="-12">&#8211;</tspan></text>
<text x="357" y="446.3" font-family="Liberation Sans" font-weight="bold" font-size="16" fill="#111">Outer</text>
<text x="415" y="446.3" font-family="Liberation Sans" font-weight="bold" font-size="16" fill="#111">layer</text>
<text x="357" y="470.7" font-family="Liberation Sans" font-weight="bold" font-size="16" fill="#111">Middle</text>
<text x="414.4" y="470.7" font-family="Liberation Sans" font-weight="bold" font-size="16" fill="#111">layer</text>
<text x="358" y="495.6" font-family="Liberation Sans" font-weight="bold" font-size="16" fill="#111">Inner</text>
<text x="413" y="495.6" font-family="Liberation Sans" font-weight="bold" font-size="16" fill="#111">layer</text>
</svg>
</body></html>
